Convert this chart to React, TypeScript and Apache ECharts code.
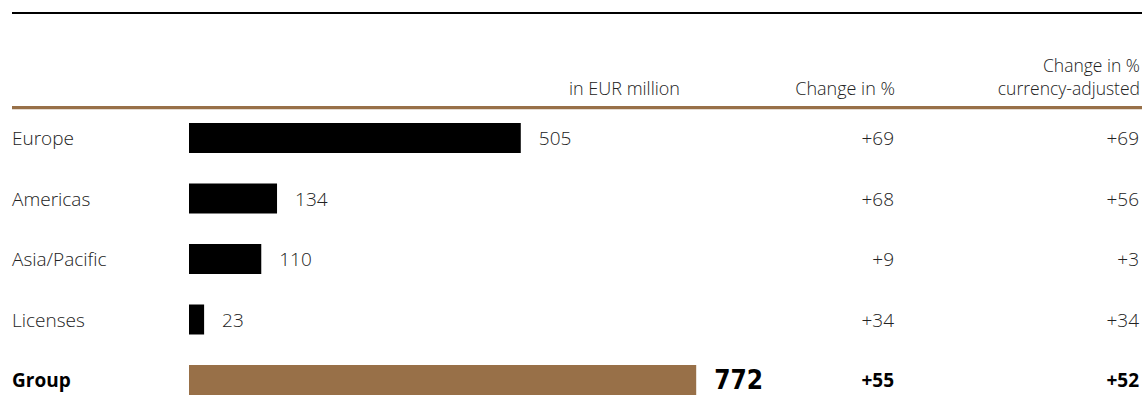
import React, { useEffect, useRef } from "react";
import * as echarts from "echarts";

const categories = ["Europe", "Americas", "Asia/Pacific", "Licenses", "Group"];
const revenue = [505, 134, 110, 23, 772];
const changePct = ["+69", "+68", "+9", "+34", "+55"];
const changeFx = ["+69", "+56", "+3", "+34", "+52"];
const headerValue = "in EUR million";
const headerChange = "Change in %";
const headerFx = ["Change in %", "currency-adjusted"];

const FONT = "'Open Sans', 'Noto Sans', sans-serif";
const TXT = "#222222";
const BROWN = "#987048";

export default function App() {
  const ref = useRef<HTMLDivElement>(null);
  useEffect(() => {
    if (!ref.current) return;
    const chart = echarts.init(ref.current, null, { renderer: "svg" });
    const lastIdx = categories.length - 1;
    const rich = {
      n: { fontFamily: FONT, fontSize: 19, fontWeight: 300, color: TXT },
      b: { fontFamily: FONT, fontSize: 19, color: "#000", fontWeight: "bold" },
    };
    const rowFmt = (arr: string[]) => (v: string, i: number) =>
      i === lastIdx ? `{b|${arr[i]}}` : `{n|${arr[i]}}`;
    const hdr = (text: string, x: number, y: number, size = 18) => ({
      type: "text",
      x,
      y,
      style: {
        text,
        align: "right",
        verticalAlign: "middle",
        fontFamily: FONT,
        fontSize: size,
        fontWeight: 300,
        fill: TXT,
      },
    });
    chart.setOption({
      animation: false,
      grid: { left: 189, top: 138, width: 658, height: 242 },
      xAxis: { type: "value", min: 0, max: 1000, show: false },
      yAxis: [0, 1, 2].map((k) => ({
        type: "category",
        data: categories,
        inverse: true,
        boundaryGap: false,
        position: k === 0 ? "left" : "right",
        axisLine: { show: false },
        axisTick: { show: false },
        splitLine: { show: false },
        axisLabel:
          k === 0
            ? {
                align: "left",
                margin: 177,
                formatter: (v: string, i: number) => (i === lastIdx ? `{b|${v}}` : `{n|${v}}`),
                rich,
              }
            : {
                align: "right",
                margin: k === 1 ? 48 : 293,
                formatter: rowFmt(k === 1 ? changePct : changeFx),
                rich,
              },
      })),
      series: [
        {
          type: "bar",
          yAxisIndex: 0,
          barWidth: 30,
          clip: false,
          data: revenue.map((v, i) => ({
            value: v,
            itemStyle: { color: i === lastIdx ? BROWN : "#000" },
          })),
          label: {
            show: true,
            position: "right",
            distance: 18,
            formatter: (p: any) => (p.dataIndex === lastIdx ? `{g|${p.value}}` : `{n|${p.value}}`),
            rich: {
              n: { fontFamily: FONT, fontSize: 19, fontWeight: 300, color: TXT },
              g: {
                fontFamily: "'Liberation Sans Narrow', 'DejaVu Sans Condensed', Roboto, sans-serif",
                fontSize: 26,
                fontWeight: "bold",
                color: "#000",
              },
            },
          },
        },
      ],
      graphic: [
        { type: "line", shape: { x1: 12, y1: 13, x2: 1142, y2: 13 }, style: { stroke: "#000", lineWidth: 2 } },
        { type: "line", shape: { x1: 12, y1: 107.6, x2: 1142, y2: 107.6 }, style: { stroke: BROWN, lineWidth: 3.4 } },
        hdr(headerValue, 680, 88),
        hdr(headerChange, 895, 88),
        hdr(headerFx[0], 1140, 65, 17.5),
        hdr(headerFx[1], 1140, 88, 17.5),
      ],
    });
    return () => chart.dispose();
  }, []);
  return (
    <div
      ref={ref}
      style={{ position: "absolute", left: 0, top: 0, width: 1142, height: 403, background: "#fff" }}
    />
  );
}
